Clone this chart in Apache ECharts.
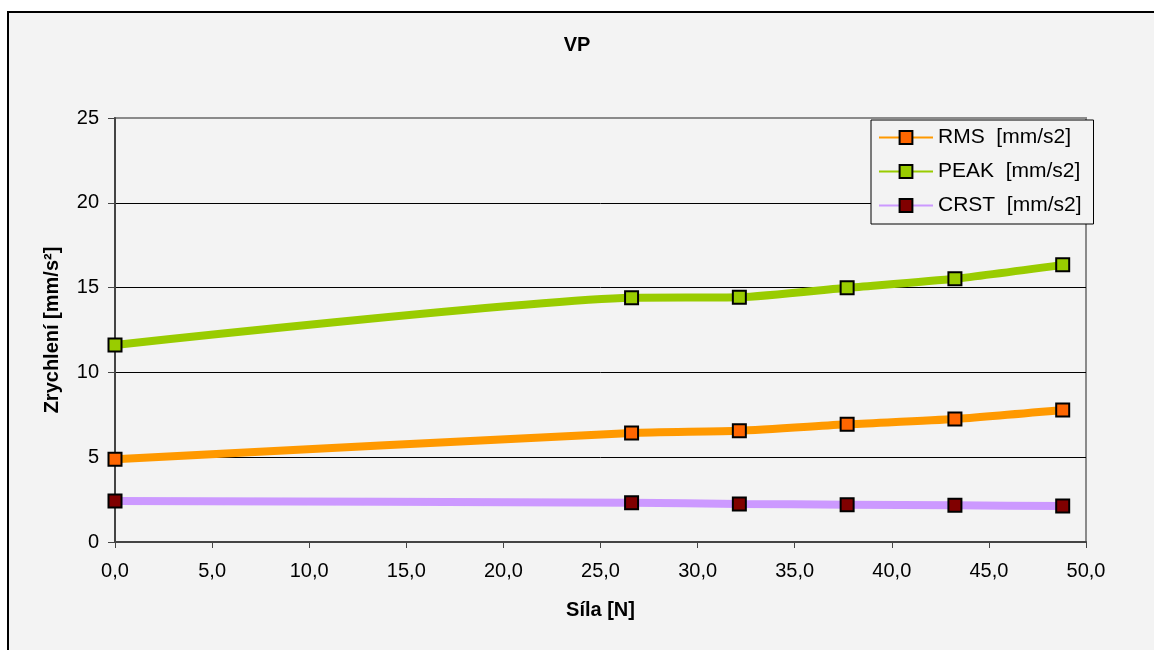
<!DOCTYPE html>
<html>
<head>
<meta charset="utf-8">
<title>VP</title>
<script src="https://cdn.jsdelivr.net/npm/echarts@6/dist/echarts.min.js"></script>
<style>
  html, body { margin: 0; padding: 0; background: #ffffff; }
  #chart { width: 1154px; height: 650px; }
</style>
</head>
<body>
<div id="chart"></div>
<script>
// Force on the sensor [N]
const sila = [0, 26.6, 32.15, 37.7, 43.25, 48.8];

// Acceleration values [mm/s2]
const rms  = [4.88, 6.43, 6.56, 6.94, 7.25, 7.78];
const peak = [11.62, 14.40, 14.43, 14.99, 15.52, 16.34];
const crst = [2.42, 2.32, 2.24, 2.20, 2.16, 2.12];

const seriesNames = ['RMS  [mm/s2]', 'PEAK  [mm/s2]', 'CRST  [mm/s2]'];
const yTicks = [0, 5, 10, 15, 20, 25];

const FONT = '"Liberation Sans", Arial, sans-serif';

function pairs(ys) {
  return sila.map((x, i) => [x, ys[i]]);
}

function makeSeries(name, ys, lineColor, markerColor) {
  return {
    name: name,
    type: 'line',
    data: pairs(ys),
    clip: false,
    smooth: 0.2,
    symbol: 'rect',
    symbolSize: 13,
    lineStyle: { color: lineColor, width: 8 },
    itemStyle: { color: markerColor, borderColor: '#000000', borderWidth: 2 },
    emphasis: { disabled: true },
    animation: false
  };
}

const chart = echarts.init(document.getElementById('chart'), null, { renderer: 'canvas' });

chart.setOption({
  backgroundColor: '#ffffff',
  animation: false,
  textStyle: { fontFamily: FONT },
  graphic: [{
    type: 'rect',
    z: -10,
    silent: true,
    shape: { x: 8, y: 12, width: 1200, height: 700 },
    style: { fill: '#F3F3F3', stroke: '#000000', lineWidth: 2 }
  }],
  title: {
    text: 'VP',
    left: 'center',
    top: 35,
    padding: 0,
    textStyle: { fontFamily: FONT, fontSize: 20, fontWeight: 'bold', color: '#000' }
  },
  legend: {
    orient: 'vertical',
    left: 871,
    top: 120,
    padding: [7, 12, 8, 7],
    itemGap: 13,
    itemWidth: 54,
    itemHeight: 16,
    backgroundColor: '#F3F3F3',
    borderColor: '#000000',
    borderWidth: 1,
    borderRadius: 0,
    lineStyle: { width: 2 },
    textStyle: { fontFamily: FONT, fontSize: 21, color: '#000' },
    data: seriesNames
  },
  grid: {
    left: 115,
    right: 68,
    top: 118,
    bottom: 108,
    show: true,
    backgroundColor: 'transparent',
    borderColor: '#8a8a8a',
    borderWidth: 2
  },
  xAxis: {
    type: 'value',
    min: 0,
    max: 50,
    interval: 5,
    name: 'Síla [N]',
    nameLocation: 'middle',
    nameGap: 58,
    nameTextStyle: { fontFamily: FONT, fontSize: 20, fontWeight: 'bold', color: '#000' },
    axisLine: { show: true, onZero: false, lineStyle: { color: '#444', width: 2 } },
    axisTick: { show: true, inside: false, length: 6, lineStyle: { color: '#444' } },
    axisLabel: {
      margin: 19,
      fontFamily: FONT,
      fontSize: 20,
      color: '#000',
      formatter: v => v.toFixed(1).replace('.', ',')
    },
    splitLine: { show: false }
  },
  yAxis: {
    type: 'value',
    min: yTicks[0],
    max: yTicks[yTicks.length - 1],
    interval: 5,
    name: 'Zrychlení [mm/s²]',
    nameLocation: 'middle',
    nameGap: 53,
    nameTextStyle: { fontFamily: FONT, fontSize: 20, fontWeight: 'bold', color: '#000' },
    axisLine: { show: true, lineStyle: { color: '#444', width: 2 } },
    axisTick: { show: true, inside: false, length: 7, lineStyle: { color: '#444' } },
    axisLabel: { margin: 16, fontFamily: FONT, fontSize: 20, color: '#000' },
    splitLine: {
      show: true,
      lineStyle: { color: ['#000', '#000', '#000', '#000', '#000', '#8a8a8a'], width: 1 }
    }
  },
  series: [
    makeSeries(seriesNames[0], rms,  '#FF9900', '#FF6600'),
    makeSeries(seriesNames[1], peak, '#99CC00', '#99CC00'),
    makeSeries(seriesNames[2], crst, '#CC99FF', '#800000')
  ]
});
</script>
</body>
</html>
